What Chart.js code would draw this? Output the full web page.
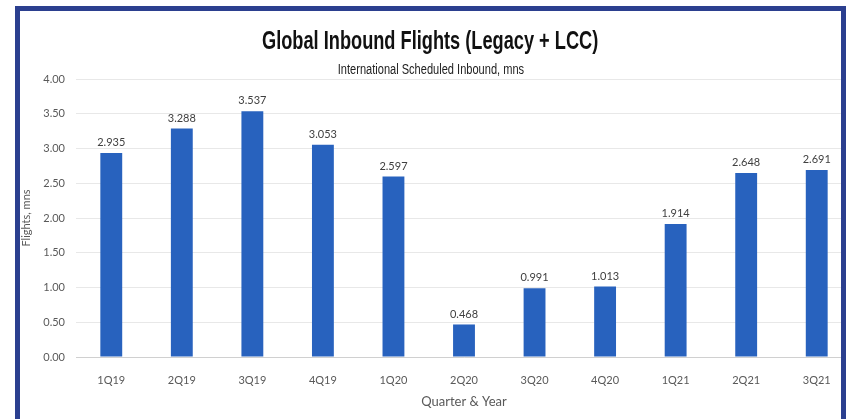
<!DOCTYPE html>
<html>
<head>
<meta charset="utf-8">
<script src="https://cdn.jsdelivr.net/npm/chart.js@4"></script>
<style>
  html, body { margin: 0; padding: 0; background: #fff; }
  body { width: 851px; height: 419px; position: relative; overflow: hidden; }
  #clip { position: absolute; left: 0; top: 0; width: 841px; height: 419px; overflow: hidden; }
  #wrap { position: absolute; left: 0; top: 0; width: 880px; height: 419px; }
  #frame {
    position: absolute; left: 15px; top: 6px; width: 821px; height: 430px;
    border: 5px solid #2b3f8f; border-bottom: none; box-sizing: content-box;
    pointer-events: none;
  }
  .head {
    position: absolute; left: 20px; width: 821px; text-align: center;
    font-family: "Liberation Sans", Arial, sans-serif; color: #111;
  }
  .head span { display: inline-block; white-space: nowrap; }
  #title { top: 25px; font-weight: bold; font-size: 26px; line-height: 30px; }
  #title span { transform: scaleX(0.70); }
  #subtitle { top: 61px; font-size: 14px; line-height: 17px; color: #222; }
  #subtitle span { transform: scaleX(0.79); }
</style>
</head>
<body>
<div id="clip"><div id="wrap"><canvas id="flightsChart" width="880" height="419"></canvas></div></div>
<div id="frame"></div>
<div id="title" class="head"><span>Global Inbound Flights (Legacy + LCC)</span></div>
<div id="subtitle" class="head"><span>International Scheduled Inbound, mns</span></div>
<script>
const quarters = ['1Q19', '2Q19', '3Q19', '4Q19', '1Q20', '2Q20', '3Q20', '4Q20', '1Q21', '2Q21', '3Q21'];
const flights = [2.935, 3.288, 3.537, 3.053, 2.597, 0.468, 0.991, 1.013, 1.914, 2.648, 2.691];
const yMin = 0;
const yMax = 4;
const yStep = 0.5;

const tickFont = { family: 'Lato, "Noto Sans", sans-serif', size: 11 };

// value labels above each bar
const barValues = {
  id: 'barValues',
  afterDatasetsDraw(chart) {
    const ctx = chart.ctx;
    const meta = chart.getDatasetMeta(0);
    ctx.save();
    ctx.font = '11px Lato, "Noto Sans", sans-serif';
    ctx.fillStyle = '#404040';
    ctx.textAlign = 'center';
    ctx.textBaseline = 'bottom';
    meta.data.forEach((bar, i) => {
      ctx.fillText(flights[i].toFixed(3), bar.x, bar.y - 5);
    });
    ctx.restore();
  }
};

new Chart(document.getElementById('flightsChart'), {
  type: 'bar',
  data: {
    labels: quarters,
    datasets: [{
      data: flights,
      backgroundColor: '#2862be',
      barPercentage: 0.31,
      categoryPercentage: 1
    }]
  },
  options: {
    responsive: false,
    animation: false,
    layout: { padding: { top: 79, right: 28, left: 0, bottom: 0 } },
    plugins: { legend: { display: false }, tooltip: { enabled: false } },
    scales: {
      x: {
        grid: { display: false, drawTicks: false },
        border: { color: '#d0d0d0' },
        ticks: { color: '#595959', font: tickFont, padding: 17, maxRotation: 0 },
        title: {
          display: true, text: 'Quarter & Year', color: '#595959',
          font: { family: 'Lato, "Noto Sans", sans-serif', size: 13 },
          padding: { top: 0, bottom: 9 }
        },
        afterFit(scale) { scale.height = 62; }
      },
      y: {
        min: yMin,
        max: yMax,
        grid: { color: '#e8e8e8', drawTicks: false },
        border: { display: false },
        ticks: {
          stepSize: yStep, color: '#595959', font: tickFont, padding: 11,
          callback: v => v.toFixed(2)
        },
        title: {
          display: true, text: 'Flights, mns', color: '#595959',
          font: { family: 'Lato, "Noto Sans", sans-serif', size: 11 },
          padding: { top: 20, bottom: 0 }
        },
        afterFit(scale) { scale.width = 76; }
      }
    }
  },
  plugins: [barValues]
});
</script>
</body>
</html>
